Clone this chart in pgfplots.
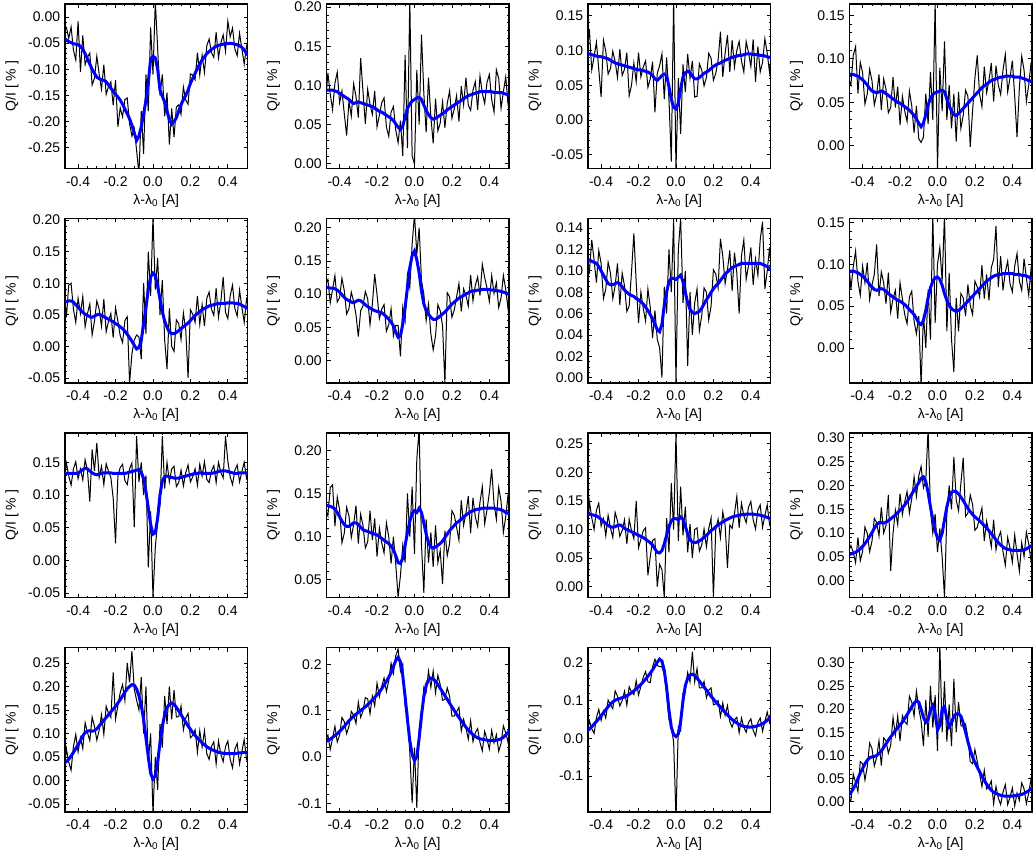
\documentclass[border=0pt]{standalone}
\usepackage{fontspec}
\setmainfont{Liberation Sans}
\usepackage{pgfplots}
\usepackage{pgfplotstable}
\pgfplotsset{compat=1.18}
\usetikzlibrary{calc}

% Q/I profiles: observed (q) and smoothed (s), one table per panel
\pgfplotstableread{
x q s
-0.475 -0.024 -0.042
-0.4625 -0.020 -0.044
-0.45 -0.041 -0.047
-0.4375 -0.019 -0.049
-0.425 -0.063 -0.051
-0.4125 -0.082 -0.052
-0.4 -0.008 -0.053
-0.3875 -0.105 -0.056
-0.375 -0.035 -0.062
-0.3625 -0.091 -0.070
-0.35 -0.077 -0.080
-0.3375 -0.069 -0.090
-0.325 -0.130 -0.100
-0.3125 -0.117 -0.108
-0.3 -0.075 -0.115
-0.2875 -0.109 -0.118
-0.275 -0.138 -0.120
-0.2625 -0.091 -0.121
-0.25 -0.148 -0.124
-0.2375 -0.133 -0.130
-0.225 -0.124 -0.136
-0.2125 -0.169 -0.142
-0.2 -0.121 -0.148
-0.1875 -0.210 -0.153
-0.175 -0.174 -0.159
-0.1625 -0.191 -0.167
-0.15 -0.158 -0.176
-0.1375 -0.155 -0.185
-0.125 -0.204 -0.195
-0.1125 -0.228 -0.207
-0.1 -0.213 -0.222
-0.0875 -0.255 -0.236
-0.075 -0.300 -0.228
-0.0625 -0.180 -0.210
-0.05 -0.262 -0.185
-0.0375 -0.110 -0.160
-0.025 -0.180 -0.125
-0.0125 -0.020 -0.080
0 -0.110 -0.075
0.0125 0.030 -0.078
0.025 -0.060 -0.100
0.0375 -0.150 -0.140
0.05 -0.110 -0.152
0.0625 -0.190 -0.163
0.075 -0.145 -0.180
0.0875 -0.244 -0.196
0.1 -0.175 -0.205
0.1125 -0.230 -0.200
0.125 -0.172 -0.193
0.1375 -0.168 -0.180
0.15 -0.186 -0.168
0.1625 -0.134 -0.158
0.175 -0.159 -0.150
0.1875 -0.167 -0.140
0.2 -0.109 -0.127
0.2125 -0.111 -0.117
0.225 -0.120 -0.108
0.2375 -0.068 -0.098
0.25 -0.111 -0.090
0.2625 -0.073 -0.082
0.275 -0.106 -0.076
0.2875 -0.055 -0.070
0.3 -0.042 -0.066
0.3125 -0.068 -0.062
0.325 -0.077 -0.059
0.3375 -0.029 -0.056
0.35 -0.078 -0.054
0.3625 -0.050 -0.053
0.375 -0.034 -0.052
0.3875 -0.066 -0.051
0.4 -0.008 -0.051
0.4125 -0.038 -0.050
0.425 -0.021 -0.051
0.4375 -0.061 -0.052
0.45 -0.074 -0.053
0.4625 -0.031 -0.055
0.475 -0.061 -0.058
0.4875 -0.090 -0.063
0.5 -0.055 -0.070
0.5125 -0.068 -0.074
}\tabA

\pgfplotstableread{
x q s
-0.475 0.079 0.094
-0.4625 0.116 0.094
-0.45 0.089 0.094
-0.4375 0.069 0.094
-0.425 0.103 0.093
-0.4125 0.117 0.092
-0.4 0.078 0.090
-0.3875 0.093 0.088
-0.375 0.064 0.086
-0.3625 0.036 0.084
-0.35 0.080 0.082
-0.3375 0.061 0.079
-0.325 0.102 0.077
-0.3125 0.086 0.078
-0.3 0.059 0.079
-0.2875 0.135 0.078
-0.275 0.092 0.077
-0.2625 0.051 0.076
-0.25 0.095 0.075
-0.2375 0.076 0.074
-0.225 0.063 0.073
-0.2125 0.093 0.071
-0.2 0.047 0.069
-0.1875 0.062 0.067
-0.175 0.078 0.066
-0.1625 0.084 0.064
-0.15 0.047 0.062
-0.1375 0.035 0.060
-0.125 0.066 0.058
-0.1125 0.073 0.055
-0.1 0.043 0.051
-0.0875 0.027 0.047
-0.075 0.055 0.044
-0.0625 0.010 0.048
-0.05 0.139 0.060
-0.0375 0.020 0.071
-0.025 0.210 0.076
-0.0125 0.010 0.080
0 0.000 0.082
0.0125 0.120 0.084
0.025 0.050 0.085
0.0375 0.165 0.082
0.05 0.090 0.075
0.0625 0.040 0.068
0.075 0.110 0.063
0.0875 0.060 0.059
0.1 0.026 0.057
0.1125 0.083 0.058
0.125 0.042 0.060
0.1375 0.052 0.062
0.15 0.079 0.064
0.1625 0.046 0.066
0.175 0.077 0.069
0.1875 0.093 0.071
0.2 0.058 0.073
0.2125 0.070 0.075
0.225 0.087 0.077
0.2375 0.054 0.079
0.25 0.099 0.081
0.2625 0.075 0.083
0.275 0.110 0.085
0.2875 0.075 0.087
0.3 0.068 0.088
0.3125 0.094 0.089
0.325 0.105 0.090
0.3375 0.069 0.091
0.35 0.112 0.092
0.3625 0.090 0.092
0.375 0.077 0.092
0.3875 0.104 0.092
0.4 0.114 0.092
0.4125 0.082 0.092
0.425 0.066 0.091
0.4375 0.120 0.091
0.45 0.109 0.091
0.4625 0.071 0.091
0.475 0.092 0.090
0.4875 0.111 0.089
0.5 0.076 0.088
0.5125 0.082 0.087
}\tabB

\pgfplotstableread{
x q s
-0.475 0.101 0.096
-0.4625 0.130 0.095
-0.45 0.072 0.094
-0.4375 0.091 0.093
-0.425 0.112 0.092
-0.4125 0.073 0.091
-0.4 0.033 0.091
-0.3875 0.115 0.090
-0.375 0.099 0.089
-0.3625 0.066 0.088
-0.35 0.074 0.086
-0.3375 0.099 0.084
-0.325 0.084 0.082
-0.3125 0.061 0.081
-0.3 0.102 0.080
-0.2875 0.064 0.079
-0.275 0.073 0.078
-0.2625 0.097 0.077
-0.25 0.035 0.076
-0.2375 0.050 0.075
-0.225 0.082 0.074
-0.2125 0.055 0.073
-0.2 0.097 0.072
-0.1875 0.062 0.072
-0.175 0.076 0.071
-0.1625 0.085 0.070
-0.15 0.047 0.069
-0.1375 0.059 0.067
-0.125 0.084 0.064
-0.1125 0.011 0.059
-0.1 0.067 0.057
-0.0875 0.078 0.060
-0.075 0.095 0.064
-0.0625 0.030 0.066
-0.05 0.090 0.064
-0.0375 0.030 0.048
-0.025 -0.060 0.030
-0.0125 0.175 0.018
0 -0.072 0.016
0.0125 0.060 0.024
0.025 -0.020 0.045
0.0375 0.080 0.062
0.05 0.040 0.068
0.0625 0.095 0.070
0.075 0.060 0.068
0.0875 0.085 0.063
0.1 0.033 0.059
0.1125 0.034 0.059
0.125 0.081 0.061
0.1375 0.072 0.064
0.15 0.049 0.067
0.1625 0.061 0.069
0.175 0.096 0.071
0.1875 0.089 0.074
0.2 0.057 0.077
0.2125 0.067 0.079
0.225 0.086 0.081
0.2375 0.127 0.082
0.25 0.062 0.084
0.2625 0.096 0.086
0.275 0.122 0.087
0.2875 0.069 0.089
0.3 0.115 0.090
0.3125 0.076 0.091
0.325 0.100 0.092
0.3375 0.113 0.093
0.35 0.085 0.093
0.3625 0.069 0.094
0.375 0.113 0.095
0.3875 0.097 0.095
0.4 0.077 0.095
0.4125 0.116 0.094
0.425 0.055 0.094
0.4375 0.106 0.094
0.45 0.069 0.093
0.4625 0.083 0.093
0.475 0.117 0.092
0.4875 0.096 0.091
0.5 0.068 0.090
0.5125 0.104 0.089
}\tabC

\pgfplotstableread{
x q s
-0.475 0.077 0.082
-0.4625 0.070 0.082
-0.45 0.104 0.082
-0.4375 0.114 0.081
-0.425 0.060 0.080
-0.4125 0.096 0.078
-0.4 0.084 0.076
-0.3875 0.048 0.073
-0.375 0.060 0.070
-0.3625 0.088 0.066
-0.35 0.075 0.063
-0.3375 0.047 0.062
-0.325 0.059 0.061
-0.3125 0.082 0.062
-0.3 0.041 0.063
-0.2875 0.077 0.062
-0.275 0.065 0.060
-0.2625 0.038 0.058
-0.25 0.044 0.056
-0.2375 0.079 0.054
-0.225 0.044 0.052
-0.2125 0.068 0.050
-0.2 0.024 0.049
-0.1875 0.057 0.047
-0.175 0.040 0.045
-0.1625 0.028 0.043
-0.15 0.063 0.041
-0.1375 0.046 0.038
-0.125 0.015 0.035
-0.1125 0.046 0.031
-0.1 0.008 0.026
-0.0875 0.004 0.022
-0.075 0.010 0.026
-0.0625 0.060 0.036
-0.05 0.025 0.047
-0.0375 0.085 0.055
-0.025 0.030 0.059
-0.0125 0.165 0.061
0 -0.026 0.062
0.0125 0.090 0.063
0.025 0.040 0.064
0.0375 0.120 0.062
0.05 0.030 0.054
0.0625 0.070 0.046
0.075 0.020 0.040
0.0875 0.060 0.036
0.1 0.005 0.035
0.1125 0.062 0.037
0.125 0.020 0.040
0.1375 0.035 0.043
0.15 0.064 0.046
0.1625 0.057 0.049
0.175 -0.001 0.052
0.1875 0.040 0.055
0.2 0.078 0.058
0.2125 0.104 0.061
0.225 0.059 0.064
0.2375 0.045 0.067
0.25 0.091 0.069
0.2625 0.061 0.071
0.275 0.075 0.073
0.2875 0.095 0.075
0.3 0.051 0.076
0.3125 0.092 0.077
0.325 0.070 0.078
0.3375 0.059 0.079
0.35 0.087 0.079
0.3625 0.105 0.080
0.375 0.062 0.080
0.3875 0.078 0.080
0.4 0.098 0.080
0.4125 0.057 0.079
0.425 0.010 0.079
0.4375 0.067 0.079
0.45 0.103 0.078
0.4625 0.087 0.077
0.475 0.051 0.076
0.4875 0.070 0.075
0.5 0.096 0.074
0.5125 0.058 0.073
}\tabD

\pgfplotstableread{
x q s
-0.475 0.087 0.070
-0.4625 0.046 0.071
-0.45 0.097 0.072
-0.4375 0.100 0.072
-0.425 0.059 0.070
-0.4125 0.038 0.066
-0.4 0.076 0.062
-0.3875 0.052 0.058
-0.375 0.079 0.054
-0.3625 0.031 0.051
-0.35 0.052 0.049
-0.3375 0.067 0.047
-0.325 0.018 0.046
-0.3125 0.040 0.048
-0.3 0.072 0.050
-0.2875 0.059 0.051
-0.275 0.032 0.049
-0.2625 0.075 0.047
-0.25 0.023 0.045
-0.2375 0.040 0.043
-0.225 0.052 0.041
-0.2125 0.014 0.039
-0.2 0.061 0.036
-0.1875 0.040 0.034
-0.175 0.017 0.031
-0.1625 0.006 0.028
-0.15 0.041 0.024
-0.1375 0.047 0.019
-0.125 -0.058 0.014
-0.1125 -0.012 0.008
-0.1 0.010 0.002
-0.0875 0.018 -0.004
-0.075 0.015 -0.002
-0.0625 -0.020 0.010
-0.05 0.100 0.035
-0.0375 0.020 0.062
-0.025 0.150 0.090
-0.0125 0.080 0.110
0 0.205 0.116
0.0125 0.090 0.112
0.025 0.140 0.095
0.0375 0.050 0.075
0.05 0.105 0.055
0.0625 0.010 0.040
0.075 -0.036 0.030
0.0875 0.060 0.023
0.1 0.000 0.020
0.1125 -0.008 0.020
0.125 0.042 0.022
0.1375 0.036 0.025
0.15 0.011 0.028
0.1625 0.053 0.031
0.175 0.026 0.034
0.1875 -0.050 0.037
0.2 0.058 0.041
0.2125 0.051 0.045
0.225 0.038 0.049
0.2375 0.080 0.052
0.25 0.035 0.055
0.2625 0.066 0.058
0.275 0.032 0.060
0.2875 0.076 0.062
0.3 0.086 0.064
0.3125 0.059 0.065
0.325 0.049 0.066
0.3375 0.092 0.067
0.35 0.046 0.068
0.3625 0.071 0.068
0.375 0.110 0.068
0.3875 0.054 0.068
0.4 0.044 0.069
0.4125 0.080 0.069
0.425 0.097 0.069
0.4375 0.060 0.068
0.45 0.048 0.068
0.4625 0.089 0.067
0.475 0.062 0.065
0.4875 0.038 0.063
0.5 0.075 0.061
0.5125 0.065 0.059
}\tabE

\pgfplotstableread{
x q s
-0.475 0.115 0.110
-0.4625 0.122 0.110
-0.45 0.087 0.109
-0.4375 0.107 0.109
-0.425 0.128 0.108
-0.4125 0.088 0.106
-0.4 0.095 0.103
-0.3875 0.124 0.099
-0.375 0.105 0.095
-0.3625 0.070 0.092
-0.35 0.078 0.090
-0.3375 0.103 0.088
-0.325 0.089 0.087
-0.3125 0.069 0.089
-0.3 0.036 0.091
-0.2875 0.075 0.090
-0.275 0.082 0.087
-0.2625 0.104 0.084
-0.25 0.093 0.081
-0.2375 0.054 0.079
-0.225 0.085 0.077
-0.2125 0.130 0.075
-0.2 0.099 0.074
-0.1875 0.063 0.073
-0.175 0.077 0.072
-0.1625 0.084 0.069
-0.15 0.044 0.066
-0.1375 0.054 0.062
-0.125 0.078 0.058
-0.1125 0.037 0.052
-0.1 0.053 0.043
-0.0875 0.053 0.035
-0.075 0.006 0.037
-0.0625 0.080 0.055
-0.05 0.060 0.080
-0.0375 0.130 0.110
-0.025 0.110 0.140
-0.0125 0.175 0.158
0 0.220 0.165
0.0125 0.160 0.152
0.025 0.200 0.132
0.0375 0.120 0.105
0.05 0.100 0.085
0.0625 0.060 0.075
0.075 0.085 0.070
0.0875 0.040 0.065
0.1 0.016 0.062
0.1125 0.037 0.062
0.125 0.084 0.064
0.1375 0.075 0.067
0.15 0.052 0.070
0.1625 -0.034 0.073
0.175 0.102 0.077
0.1875 0.096 0.081
0.2 0.065 0.085
0.2125 0.076 0.088
0.225 0.096 0.091
0.2375 0.116 0.094
0.25 0.074 0.096
0.2625 0.108 0.098
0.275 0.098 0.100
0.2875 0.082 0.102
0.3 0.129 0.104
0.3125 0.090 0.105
0.325 0.113 0.105
0.3375 0.126 0.106
0.35 0.098 0.106
0.3625 0.145 0.107
0.375 0.125 0.107
0.3875 0.109 0.107
0.4 0.089 0.107
0.4125 0.128 0.106
0.425 0.101 0.106
0.4375 0.117 0.105
0.45 0.080 0.105
0.4625 0.094 0.104
0.475 0.128 0.103
0.4875 0.107 0.102
0.5 0.078 0.100
0.5125 0.114 0.099
}\tabF

\pgfplotstableread{
x q s
-0.475 0.106 0.110
-0.4625 0.099 0.110
-0.45 0.129 0.109
-0.4375 0.110 0.108
-0.425 0.089 0.107
-0.4125 0.119 0.104
-0.4 0.107 0.100
-0.3875 0.074 0.096
-0.375 0.083 0.092
-0.3625 0.108 0.088
-0.35 0.098 0.087
-0.3375 0.074 0.087
-0.325 0.086 0.088
-0.3125 0.107 0.089
-0.3 0.068 0.088
-0.2875 0.098 0.085
-0.275 0.086 0.082
-0.2625 0.062 0.080
-0.25 0.067 0.078
-0.2375 0.099 0.077
-0.225 0.135 0.076
-0.2125 0.089 0.074
-0.2 0.051 0.073
-0.1875 0.080 0.071
-0.175 0.065 0.069
-0.1625 0.053 0.066
-0.15 0.083 0.063
-0.1375 0.066 0.059
-0.125 0.037 0.055
-0.1125 0.063 0.050
-0.1 0.036 0.045
-0.0875 0.028 0.043
-0.075 0.000 0.050
-0.0625 0.085 0.068
-0.05 0.060 0.080
-0.0375 0.120 0.090
-0.025 0.080 0.093
-0.0125 0.149 0.093
0 -0.005 0.092
0.0125 0.120 0.094
0.025 0.149 0.096
0.0375 0.070 0.090
0.05 0.100 0.080
0.0625 0.011 0.070
0.075 0.080 0.064
0.0875 0.040 0.061
0.1 0.070 0.060
0.1125 0.083 0.061
0.125 0.044 0.062
0.1375 0.058 0.065
0.15 0.084 0.069
0.1625 0.080 0.073
0.175 0.054 0.076
0.1875 0.067 0.080
0.2 0.101 0.083
0.2125 0.097 0.086
0.225 0.084 0.088
0.2375 0.130 0.091
0.25 0.114 0.094
0.2625 0.088 0.097
0.275 0.101 0.099
0.2875 0.119 0.101
0.3 0.081 0.103
0.3125 0.117 0.104
0.325 0.098 0.105
0.3375 0.060 0.106
0.35 0.114 0.107
0.3625 0.129 0.107
0.375 0.092 0.107
0.3875 0.105 0.107
0.4 0.122 0.107
0.4125 0.087 0.107
0.425 0.111 0.107
0.4375 0.096 0.107
0.45 0.129 0.107
0.4625 0.146 0.106
0.475 0.083 0.105
0.4875 0.100 0.104
0.5 0.122 0.102
0.5125 0.087 0.100
}\tabG

\pgfplotstableread{
x q s
-0.475 0.106 0.091
-0.4625 0.070 0.092
-0.45 0.097 0.092
-0.4375 0.116 0.091
-0.425 0.080 0.090
-0.4125 0.063 0.088
-0.4 0.098 0.086
-0.3875 0.078 0.083
-0.375 0.102 0.080
-0.3625 0.058 0.076
-0.35 0.075 0.073
-0.3375 0.088 0.070
-0.325 0.124 0.069
-0.3125 0.062 0.070
-0.3 0.091 0.071
-0.2875 0.078 0.070
-0.275 0.053 0.068
-0.2625 0.090 0.065
-0.25 0.043 0.063
-0.2375 0.059 0.061
-0.225 0.069 0.059
-0.2125 0.035 0.057
-0.2 0.078 0.056
-0.1875 0.059 0.054
-0.175 0.040 0.052
-0.1625 0.029 0.049
-0.15 0.061 0.046
-0.1375 0.068 0.043
-0.125 0.032 0.040
-0.1125 0.017 0.035
-0.1 0.038 0.030
-0.0875 -0.045 0.028
-0.075 0.040 0.033
-0.0625 0.000 0.045
-0.05 0.070 0.060
-0.0375 0.010 0.072
-0.025 0.160 0.080
-0.0125 0.030 0.084
0 0.100 0.085
0.0125 0.120 0.082
0.025 0.080 0.075
0.0375 0.160 0.065
0.05 0.020 0.057
0.0625 0.090 0.051
0.075 0.010 0.047
0.0875 -0.029 0.045
0.1 0.060 0.044
0.1125 0.020 0.045
0.125 0.065 0.047
0.1375 0.060 0.050
0.15 0.038 0.053
0.1625 0.076 0.056
0.175 0.051 0.059
0.1875 0.040 0.062
0.2 0.080 0.065
0.2125 0.073 0.068
0.225 0.061 0.071
0.2375 0.099 0.074
0.25 0.059 0.077
0.2625 0.088 0.080
0.275 0.057 0.082
0.2875 0.096 0.084
0.3 0.106 0.086
0.3125 0.146 0.087
0.325 0.073 0.088
0.3375 0.110 0.088
0.35 0.069 0.089
0.3625 0.091 0.089
0.375 0.104 0.089
0.3875 0.077 0.089
0.4 0.067 0.089
0.4125 0.098 0.088
0.425 0.113 0.088
0.4375 0.080 0.088
0.45 0.069 0.087
0.4625 0.107 0.087
0.475 0.084 0.086
0.4875 0.063 0.085
0.5 0.095 0.083
0.5125 0.087 0.082
}\tabH

\pgfplotstableread{
x q s
-0.475 0.122 0.133
-0.4625 0.149 0.133
-0.45 0.129 0.133
-0.4375 0.115 0.133
-0.425 0.140 0.133
-0.4125 0.151 0.133
-0.4 0.125 0.134
-0.3875 0.140 0.136
-0.375 0.123 0.139
-0.3625 0.154 0.141
-0.35 0.138 0.140
-0.3375 0.090 0.137
-0.325 0.170 0.134
-0.3125 0.137 0.132
-0.3 0.180 0.131
-0.2875 0.127 0.132
-0.275 0.144 0.133
-0.2625 0.116 0.134
-0.25 0.148 0.134
-0.2375 0.136 0.134
-0.225 0.127 0.134
-0.2125 0.095 0.133
-0.2 0.026 0.133
-0.1875 0.129 0.133
-0.175 0.142 0.133
-0.1625 0.147 0.133
-0.15 0.122 0.133
-0.1375 0.116 0.134
-0.125 0.140 0.135
-0.1125 0.149 0.136
-0.1 0.051 0.137
-0.0875 0.190 0.138
-0.075 0.120 0.139
-0.0625 0.150 0.135
-0.05 0.100 0.125
-0.0375 0.130 0.105
-0.025 -0.011 0.080
-0.0125 0.075 0.055
0 -0.056 0.040
0.0125 0.020 0.042
0.025 0.060 0.065
0.0375 0.085 0.100
0.05 0.190 0.122
0.0625 0.110 0.128
0.075 0.150 0.129
0.0875 0.120 0.128
0.1 0.140 0.127
0.1125 0.144 0.126
0.125 0.113 0.126
0.1375 0.119 0.126
0.15 0.138 0.127
0.1625 0.114 0.128
0.175 0.134 0.129
0.1875 0.146 0.130
0.2 0.120 0.131
0.2125 0.128 0.132
0.225 0.140 0.133
0.2375 0.115 0.133
0.25 0.147 0.134
0.2625 0.129 0.134
0.275 0.151 0.133
0.2875 0.124 0.133
0.3 0.119 0.133
0.3125 0.137 0.133
0.325 0.145 0.134
0.3375 0.119 0.135
0.35 0.150 0.136
0.3625 0.135 0.137
0.375 0.126 0.137
0.3875 0.190 0.137
0.4 0.152 0.136
0.4125 0.128 0.135
0.425 0.116 0.134
0.4375 0.138 0.133
0.45 0.146 0.133
0.4625 0.120 0.134
0.475 0.136 0.134
0.4875 0.150 0.134
0.5 0.125 0.134
0.5125 0.130 0.134
}\tabI

\pgfplotstableread{
x q s
-0.475 0.131 0.136
-0.4625 0.124 0.136
-0.45 0.157 0.135
-0.4375 0.160 0.134
-0.425 0.112 0.132
-0.4125 0.146 0.128
-0.4 0.131 0.123
-0.3875 0.093 0.118
-0.375 0.104 0.114
-0.3625 0.134 0.112
-0.35 0.124 0.112
-0.3375 0.099 0.114
-0.325 0.114 0.116
-0.3125 0.136 0.116
-0.3 0.092 0.114
-0.2875 0.126 0.111
-0.275 0.113 0.108
-0.2625 0.087 0.107
-0.25 0.094 0.106
-0.2375 0.130 0.105
-0.225 0.096 0.104
-0.2125 0.121 0.103
-0.2 0.077 0.102
-0.1875 0.110 0.100
-0.175 0.093 0.098
-0.1625 0.081 0.096
-0.15 0.116 0.094
-0.1375 0.100 0.092
-0.125 0.069 0.089
-0.1125 0.100 0.085
-0.1 0.068 0.078
-0.0875 0.030 0.070
-0.075 0.055 0.069
-0.0625 0.090 0.075
-0.05 0.070 0.090
-0.0375 0.150 0.105
-0.025 0.100 0.118
-0.0125 0.158 0.127
0 0.080 0.130
0.0125 0.190 0.128
0.025 0.225 0.133
0.0375 0.090 0.128
0.05 0.035 0.116
0.0625 0.120 0.103
0.075 0.070 0.093
0.0875 0.105 0.088
0.1 0.065 0.087
0.1125 0.113 0.088
0.125 0.070 0.090
0.1375 0.084 0.092
0.15 0.045 0.095
0.1625 0.107 0.099
0.175 0.078 0.103
0.1875 0.092 0.107
0.2 0.130 0.110
0.2125 0.125 0.113
0.225 0.111 0.116
0.2375 0.096 0.118
0.25 0.142 0.120
0.2625 0.113 0.123
0.275 0.127 0.125
0.2875 0.147 0.127
0.3 0.104 0.129
0.3125 0.145 0.130
0.325 0.123 0.131
0.3375 0.112 0.132
0.35 0.140 0.132
0.3625 0.158 0.133
0.375 0.115 0.133
0.3875 0.131 0.133
0.4 0.151 0.133
0.4125 0.178 0.133
0.425 0.138 0.133
0.4375 0.120 0.132
0.45 0.157 0.132
0.4625 0.141 0.131
0.475 0.105 0.130
0.4875 0.123 0.128
0.5 0.149 0.127
0.5125 0.111 0.126
}\tabJ

\pgfplotstableread{
x q s
-0.475 0.085 0.127
-0.4625 0.149 0.127
-0.45 0.121 0.126
-0.4375 0.100 0.125
-0.425 0.134 0.124
-0.4125 0.146 0.121
-0.4 0.106 0.118
-0.3875 0.119 0.114
-0.375 0.089 0.111
-0.3625 0.125 0.107
-0.35 0.103 0.105
-0.3375 0.086 0.104
-0.325 0.130 0.105
-0.3125 0.115 0.107
-0.3 0.088 0.108
-0.2875 0.098 0.106
-0.275 0.117 0.102
-0.2625 0.075 0.100
-0.25 0.118 0.098
-0.2375 0.098 0.096
-0.225 0.084 0.094
-0.2125 0.150 0.092
-0.2 0.068 0.090
-0.1875 0.083 0.088
-0.175 0.098 0.086
-0.1625 0.103 0.083
-0.15 0.020 0.080
-0.1375 0.052 0.077
-0.125 0.081 0.073
-0.1125 0.084 0.066
-0.1 0.000 0.060
-0.0875 0.039 0.059
-0.075 0.030 0.063
-0.0625 -0.019 0.075
-0.05 0.120 0.090
-0.0375 0.060 0.105
-0.025 0.181 0.115
-0.0125 0.100 0.119
0 0.270 0.119
0.0125 0.080 0.117
0.025 0.175 0.122
0.0375 0.090 0.118
0.05 0.140 0.106
0.0625 0.060 0.092
0.075 0.110 0.082
0.0875 0.050 0.078
0.1 0.100 0.077
0.1125 0.103 0.078
0.125 0.062 0.080
0.1375 0.073 0.083
0.15 0.101 0.086
0.1625 0.070 0.090
0.175 0.102 0.094
0.1875 0.120 0.098
0.2 -0.019 0.101
0.2125 0.100 0.105
0.225 0.118 0.108
0.2375 0.086 0.111
0.25 0.131 0.113
0.2625 0.108 0.116
0.275 0.033 0.118
0.2875 0.108 0.120
0.3 0.102 0.122
0.3125 0.128 0.123
0.325 0.158 0.124
0.3375 0.103 0.125
0.35 0.146 0.126
0.3625 0.124 0.126
0.375 0.112 0.127
0.3875 0.139 0.127
0.4 0.149 0.127
0.4125 0.117 0.127
0.425 0.101 0.126
0.4375 0.134 0.126
0.45 0.143 0.125
0.4625 0.104 0.124
0.475 0.125 0.123
0.4875 0.143 0.121
0.5 0.108 0.120
0.5125 0.114 0.119
}\tabK

\pgfplotstableread{
x q s
-0.475 0.062 0.055
-0.4625 0.074 0.056
-0.45 0.060 0.058
-0.4375 0.038 0.060
-0.425 0.091 0.063
-0.4125 0.042 0.067
-0.4 0.062 0.072
-0.3875 0.113 0.078
-0.375 0.099 0.085
-0.3625 0.061 0.093
-0.35 0.083 0.101
-0.3375 0.131 0.110
-0.325 0.122 0.118
-0.3125 0.094 0.122
-0.3 0.154 0.122
-0.2875 0.100 0.121
-0.275 0.116 0.123
-0.2625 0.180 0.126
-0.25 0.021 0.130
-0.2375 0.099 0.134
-0.225 0.148 0.138
-0.2125 0.118 0.143
-0.2 0.183 0.148
-0.1875 0.139 0.153
-0.175 0.166 0.159
-0.1625 0.187 0.166
-0.15 0.142 0.174
-0.1375 0.172 0.182
-0.125 0.218 0.190
-0.1125 0.177 0.198
-0.1 0.220 0.206
-0.0875 0.240 0.215
-0.075 0.195 0.218
-0.0625 0.210 0.208
-0.05 0.320 0.185
-0.0375 0.150 0.155
-0.025 0.100 0.128
-0.0125 0.140 0.105
0 0.060 0.090
0.0125 0.110 0.085
0.025 0.050 0.100
0.0375 -0.035 0.128
0.05 0.140 0.155
0.0625 0.200 0.175
0.075 0.150 0.186
0.0875 0.260 0.188
0.1 0.170 0.187
0.1125 0.147 0.182
0.125 0.204 0.176
0.1375 0.258 0.168
0.15 0.135 0.160
0.1625 0.142 0.152
0.175 0.180 0.145
0.1875 0.160 0.139
0.2 0.106 0.134
0.2125 0.112 0.130
0.225 0.133 0.126
0.2375 0.153 0.121
0.25 0.084 0.116
0.2625 0.125 0.111
0.275 0.101 0.105
0.2875 0.071 0.099
0.3 0.128 0.093
0.3125 0.065 0.086
0.325 0.090 0.080
0.3375 0.103 0.075
0.35 0.061 0.071
0.3625 0.033 0.068
0.375 0.091 0.066
0.3875 0.069 0.065
0.4 0.039 0.064
0.4125 0.096 0.064
0.425 0.057 0.064
0.4375 0.020 0.064
0.45 0.080 0.064
0.4625 0.051 0.065
0.475 0.102 0.067
0.4875 0.077 0.070
0.5 0.041 0.073
0.5125 0.098 0.077
}\tabL

\pgfplotstableread{
x q s
-0.475 0.020 0.038
-0.4625 0.067 0.040
-0.45 0.039 0.045
-0.4375 0.022 0.052
-0.425 0.072 0.060
-0.4125 0.098 0.068
-0.4 0.061 0.076
-0.3875 0.091 0.085
-0.375 0.068 0.095
-0.3625 0.123 0.102
-0.35 0.102 0.105
-0.3375 0.085 0.106
-0.325 0.135 0.105
-0.3125 0.115 0.106
-0.3 0.086 0.110
-0.2875 0.107 0.116
-0.275 0.140 0.122
-0.2625 0.098 0.128
-0.25 0.158 0.134
-0.2375 0.143 0.140
-0.225 0.134 0.146
-0.2125 0.230 0.152
-0.2 0.131 0.158
-0.1875 0.159 0.165
-0.175 0.187 0.172
-0.1625 0.204 0.180
-0.15 0.170 0.188
-0.1375 0.250 0.195
-0.125 0.209 0.200
-0.1125 0.275 0.204
-0.1 0.194 0.203
-0.0875 0.171 0.195
-0.075 0.150 0.180
-0.0625 0.220 0.160
-0.05 0.100 0.130
-0.0375 0.200 0.090
-0.025 0.040 0.050
-0.0125 0.100 0.015
0 -0.070 0.003
0.0125 0.050 0.010
0.025 -0.020 0.040
0.0375 0.120 0.080
0.05 0.070 0.115
0.0625 0.180 0.140
0.075 0.120 0.155
0.0875 0.200 0.162
0.1 0.130 0.165
0.1125 0.192 0.162
0.125 0.135 0.156
0.1375 0.136 0.148
0.15 0.158 0.140
0.1625 0.108 0.132
0.175 0.133 0.124
0.1875 0.143 0.116
0.2 0.091 0.109
0.2125 0.096 0.102
0.225 0.108 0.096
0.2375 0.060 0.090
0.25 0.106 0.085
0.2625 0.071 0.080
0.275 0.106 0.076
0.2875 0.057 0.072
0.3 0.045 0.069
0.3125 0.072 0.066
0.325 0.082 0.064
0.3375 0.035 0.062
0.35 0.084 0.060
0.3625 0.056 0.059
0.375 0.040 0.058
0.3875 0.072 0.057
0.4 0.084 0.057
0.4125 0.045 0.057
0.425 0.027 0.057
0.4375 0.067 0.058
0.45 0.079 0.058
0.4625 0.035 0.059
0.475 0.062 0.059
0.4875 0.087 0.060
0.5 0.045 0.060
0.5125 0.055 0.061
}\tabM

\pgfplotstableread{
x q s
-0.475 0.038 0.033
-0.4625 0.047 0.035
-0.45 0.016 0.038
-0.4375 0.040 0.042
-0.425 0.066 0.046
-0.4125 0.032 0.050
-0.4 0.047 0.055
-0.3875 0.085 0.060
-0.375 0.076 0.066
-0.3625 0.050 0.072
-0.35 0.066 0.078
-0.3375 0.098 0.083
-0.325 0.090 0.088
-0.3125 0.072 0.092
-0.3 0.118 0.096
-0.2875 0.085 0.100
-0.275 0.099 0.104
-0.2625 0.128 0.108
-0.25 0.125 0.113
-0.2375 0.093 0.118
-0.225 0.131 0.123
-0.2125 0.110 0.128
-0.2 0.159 0.134
-0.1875 0.130 0.140
-0.175 0.152 0.147
-0.1625 0.170 0.155
-0.15 0.141 0.163
-0.1375 0.164 0.172
-0.125 0.202 0.182
-0.1125 0.180 0.195
-0.1 0.218 0.208
-0.0875 0.233 0.215
-0.075 0.185 0.205
-0.0625 0.200 0.175
-0.05 0.110 0.130
-0.0375 0.100 0.080
-0.025 0.010 0.035
-0.0125 -0.100 0.005
0 0.020 -0.008
0.0125 -0.110 0.000
0.025 0.060 0.040
0.0375 0.070 0.090
0.05 0.150 0.130
0.0625 0.140 0.155
0.075 0.185 0.166
0.0875 0.150 0.170
0.1 0.185 0.168
0.1125 0.138 0.163
0.125 0.176 0.156
0.1375 0.156 0.148
0.15 0.122 0.140
0.1625 0.124 0.132
0.175 0.149 0.124
0.1875 0.131 0.116
0.2 0.088 0.108
0.2125 0.088 0.100
0.225 0.097 0.092
0.2375 0.107 0.085
0.25 0.056 0.078
0.2625 0.081 0.071
0.275 0.062 0.064
0.2875 0.038 0.058
0.3 0.078 0.053
0.3125 0.033 0.048
0.325 0.052 0.044
0.3375 0.061 0.041
0.35 0.031 0.039
0.3625 0.013 0.038
0.375 0.055 0.037
0.3875 0.038 0.036
0.4 0.017 0.035
0.4125 0.057 0.035
0.425 0.030 0.035
0.4375 0.048 0.036
0.45 0.012 0.037
0.4625 0.029 0.039
0.475 0.067 0.042
0.4875 0.052 0.047
0.5 0.031 0.053
0.5125 0.075 0.060
}\tabN

\pgfplotstableread{
x q s
-0.475 0.005 0.020
-0.4625 0.047 0.025
-0.45 0.026 0.031
-0.4375 0.013 0.038
-0.425 0.055 0.045
-0.4125 0.077 0.052
-0.4 0.048 0.060
-0.3875 0.073 0.068
-0.375 0.054 0.076
-0.3625 0.102 0.084
-0.35 0.089 0.091
-0.3375 0.079 0.097
-0.325 0.126 0.101
-0.3125 0.112 0.104
-0.3 0.086 0.106
-0.2875 0.100 0.108
-0.275 0.125 0.110
-0.2625 0.088 0.113
-0.25 0.137 0.117
-0.2375 0.123 0.121
-0.225 0.116 0.126
-0.2125 0.153 0.131
-0.2 0.115 0.137
-0.1875 0.138 0.143
-0.175 0.162 0.150
-0.1625 0.177 0.157
-0.15 0.150 0.165
-0.1375 0.148 0.173
-0.125 0.190 0.182
-0.1125 0.210 0.192
-0.1 0.194 0.202
-0.0875 0.190 0.210
-0.075 0.190 0.205
-0.0625 0.170 0.180
-0.05 0.120 0.135
-0.0375 0.050 0.075
-0.025 0.030 0.030
-0.0125 -0.010 0.010
0 -0.210 0.005
0.0125 0.030 0.012
0.025 0.020 0.045
0.0375 0.120 0.100
0.05 0.130 0.140
0.0625 0.175 0.160
0.075 0.150 0.168
0.0875 0.230 0.170
0.1 0.150 0.167
0.1125 0.185 0.160
0.125 0.134 0.152
0.1375 0.134 0.144
0.15 0.151 0.136
0.1625 0.108 0.128
0.175 0.128 0.120
0.1875 0.134 0.112
0.2 0.089 0.104
0.2125 0.092 0.097
0.225 0.100 0.090
0.2375 0.058 0.083
0.25 0.094 0.076
0.2625 0.061 0.069
0.275 0.087 0.062
0.2875 0.044 0.056
0.3 0.030 0.050
0.3125 0.050 0.045
0.325 0.056 0.041
0.3375 0.015 0.037
0.35 0.054 0.034
0.3625 0.030 0.032
0.375 0.016 0.031
0.3875 0.042 0.030
0.4 0.052 0.030
0.4125 0.021 0.031
0.425 0.007 0.032
0.4375 0.042 0.034
0.45 0.054 0.036
0.4625 0.019 0.039
0.475 0.045 0.043
0.4875 0.070 0.048
0.5 0.042 0.054
0.5125 0.055 0.060
}\tabO

\pgfplotstableread{
x q s
-0.475 0.008 0.015
-0.4625 0.002 0.020
-0.45 0.060 0.028
-0.4375 0.042 0.038
-0.425 0.022 0.050
-0.4125 0.087 0.062
-0.4 0.082 0.072
-0.3875 0.047 0.082
-0.375 0.076 0.090
-0.3625 0.127 0.095
-0.35 0.115 0.097
-0.3375 0.077 0.098
-0.325 0.096 0.100
-0.3125 0.132 0.104
-0.3 0.078 0.110
-0.2875 0.138 0.117
-0.275 0.132 0.125
-0.2625 0.105 0.133
-0.25 0.122 0.140
-0.2375 0.182 0.147
-0.225 0.144 0.154
-0.2125 0.185 0.160
-0.2 0.131 0.166
-0.1875 0.186 0.172
-0.175 0.173 0.180
-0.1625 0.167 0.188
-0.15 0.228 0.196
-0.1375 0.215 0.205
-0.125 0.185 0.213
-0.1125 0.239 0.218
-0.1 0.201 0.215
-0.0875 0.175 0.200
-0.075 0.120 0.182
-0.0625 0.220 0.172
-0.05 0.140 0.178
-0.0375 0.250 0.198
-0.025 0.160 0.208
-0.0125 0.230 0.190
0 0.110 0.155
0.0125 0.340 0.165
0.025 0.150 0.200
0.0375 0.260 0.205
0.05 0.130 0.180
0.0625 0.210 0.162
0.075 0.120 0.170
0.0875 0.265 0.185
0.1 0.150 0.190
0.1125 0.215 0.190
0.125 0.165 0.185
0.1375 0.162 0.170
0.15 0.168 0.150
0.1625 0.138 0.130
0.175 0.087 0.112
0.1875 0.082 0.097
0.2 0.113 0.085
0.2125 0.087 0.075
0.225 0.060 0.065
0.2375 0.033 0.055
0.25 0.068 0.046
0.2625 0.028 0.038
0.275 0.033 0.031
0.2875 0.045 0.025
0.3 -0.004 0.021
0.3125 0.033 0.018
0.325 0.008 0.016
0.3375 -0.006 0.014
0.35 0.021 0.013
0.3625 0.037 0.012
0.375 -0.006 0.012
0.3875 0.010 0.012
0.4 0.030 0.012
0.4125 -0.009 0.013
0.425 0.019 0.014
0.4375 0.003 0.015
0.45 0.041 0.016
0.4625 0.028 0.018
0.475 -0.004 0.021
0.4875 0.019 0.024
0.5 0.050 0.028
0.5125 0.017 0.032
}\tabP

\pgfplotsset{
  qpanel/.style={
    anchor=south west, scale only axis,
    width=182.5pt, height=164.5pt,
    xmin=-0.47, xmax=0.505,
    xtick={-0.4,-0.2,0,0.2,0.4},
    minor x tick num=3, minor y tick num=4,
    tick pos=both, tick align=inside,
    major tick length=4pt, minor tick length=2pt,
    every tick/.style={black, line width=0.8pt},
    axis line style={line width=1.6pt},
    scaled ticks=false,
    /pgf/number format/assume math mode=true,
    xticklabel style={/pgf/number format/fixed, /pgf/number format/fixed zerofill,
      /pgf/number format/precision=1, yshift=-3pt},
    yticklabel style={/pgf/number format/fixed, /pgf/number format/fixed zerofill,
      /pgf/number format/precision=2},
    xlabel={λ-λ\textsubscript{0} [A]},
    ylabel={Q/I [ \% ]},
    every axis x label/.style={at={(rel axis cs:0.5,0)}, anchor=center, yshift=-32pt},
    every axis y label/.style={at={($(rel axis cs:0,0.5)+(-53pt,0pt)$)}, rotate=90, anchor=center},
  },
}

% one panel: left edge, bottom edge, axis options, table
\newcommand{\panel}[4]{%
  \begin{axis}[qpanel, at={(#1pt,#2pt)}, #3]
    \addplot[black, line width=1pt] table[x=x, y=q] {#4};
    \addplot[blue, line width=3pt] table[x=x, y=s] {#4};
  \end{axis}}

\begin{document}
\fontsize{14}{16.8}\selectfont
\begin{tikzpicture}
\useasboundingbox (0,0) rectangle (1036pt,855pt);
% row 1
\panel{65}{686.5}{ymin=-0.29, ymax=0.025, ytick={-0.25,-0.2,-0.15,-0.1,-0.05,0}}{\tabA}
\panel{326.5}{686.5}{ymin=-0.006, ymax=0.204, ytick={0,0.05,0.1,0.15,0.2}}{\tabB}
\panel{588}{686.5}{ymin=-0.07, ymax=0.167, ytick={-0.05,0,0.05,0.1,0.15}}{\tabC}
\panel{849.5}{686.5}{ymin=-0.026, ymax=0.163, ytick={0,0.05,0.1,0.15}}{\tabD}
% row 2
\panel{65}{472}{ymin=-0.058, ymax=0.2025, ytick={-0.05,0,0.05,0.1,0.15,0.2}}{\tabE}
\panel{326.5}{472}{ymin=-0.034, ymax=0.214, ytick={0,0.05,0.1,0.15,0.2}}{\tabF}
\panel{588}{472}{ymin=-0.005, ymax=0.149, ytick={0,0.02,0.04,0.06,0.08,0.1,0.12,0.14}, minor y tick num=3}{\tabG}
\panel{849.5}{472}{ymin=-0.042, ymax=0.155, ytick={0,0.05,0.1,0.15}}{\tabH}
% row 3
\panel{65}{257.5}{ymin=-0.057, ymax=0.195, ytick={-0.05,0,0.05,0.1,0.15}}{\tabI}
\panel{326.5}{257.5}{ymin=0.0296, ymax=0.22, ytick={0.05,0.1,0.15,0.2}}{\tabJ}
\panel{588}{257.5}{ymin=-0.019, ymax=0.269, ytick={0,0.05,0.1,0.15,0.2,0.25}}{\tabK}
\panel{849.5}{257.5}{ymin=-0.035, ymax=0.31, ytick={0,0.05,0.1,0.15,0.2,0.25,0.3}}{\tabL}
% row 4
\panel{65}{43}{ymin=-0.067, ymax=0.283, ytick={-0.05,0,0.05,0.1,0.15,0.2,0.25}}{\tabM}
\panel{326.5}{43}{ymin=-0.119, ymax=0.236, ytick={-0.1,0,0.1,0.2},
  yticklabel style={/pgf/number format/precision=1}}{\tabN}
\panel{588}{43}{ymin=-0.195, ymax=0.241, ytick={-0.1,0,0.1,0.2},
  yticklabel style={/pgf/number format/precision=1}}{\tabO}
\panel{849.5}{43}{ymin=-0.022, ymax=0.333, ytick={0,0.05,0.1,0.15,0.2,0.25,0.3}}{\tabP}
\end{tikzpicture}
\end{document}
